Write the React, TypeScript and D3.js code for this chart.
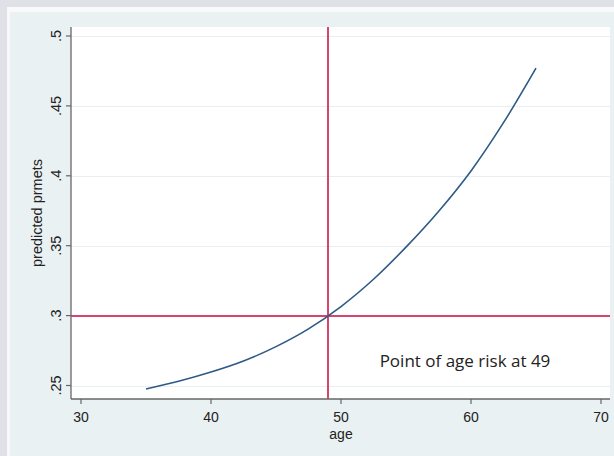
import React, { useEffect, useRef } from 'react';
import * as d3 from 'd3';

// values
const ages = [35, 37.5, 40, 42.5, 45, 47.5, 50, 52.5, 55, 57.5, 60, 62.5, 65];
const predicted = [0.2475, 0.253, 0.2596, 0.2675, 0.2778, 0.2905, 0.3065, 0.326, 0.349, 0.3745, 0.4035, 0.438, 0.477];
const xTicks = [30, 40, 50, 60, 70];
const yTicks = [0.25, 0.3, 0.35, 0.4, 0.45, 0.5];
const yTickLabels = ['.25', '.3', '.35', '.4', '.45', '.5'];
const refAge = 49;
const refRisk = 0.3;
const note = 'Point of age risk at 49';

export default function App() {
  const svgRef = useRef<SVGSVGElement>(null);

  useEffect(() => {
    const width = 614;
    const height = 456;
    const svg = d3.select(svgRef.current);
    svg.selectAll('*').remove();
    svg.attr('width', width).attr('height', height);

    const left = 71, right = 610, top = 27, bottom = 399;
    const font = '"Liberation Sans", Arial, sans-serif';

    // backgrounds
    svg.append('rect').attr('width', width).attr('height', height).attr('fill', '#dfe1e7');
    svg.append('rect').attr('x', 7).attr('y', 7).attr('width', width - 7).attr('height', height - 7).attr('fill', '#f7f9fa');
    svg.append('rect').attr('x', 10).attr('y', 12).attr('width', width - 10).attr('height', height - 12).attr('fill', '#eaf1f3');
    svg.append('rect').attr('x', left).attr('y', top).attr('width', right - left).attr('height', bottom - top).attr('fill', '#ffffff');

    const x = d3.scaleLinear().domain([30, 70]).range([81, 601]);
    const y = d3.scaleLinear().domain([0.25, 0.5]).range([385.5, 36]);

    // gridlines
    svg.append('g').selectAll('line').data(yTicks).join('line')
      .attr('x1', left).attr('x2', right)
      .attr('y1', d => Math.round(y(d)) + 0.5).attr('y2', d => Math.round(y(d)) + 0.5)
      .attr('stroke', '#e8eff2').attr('stroke-width', 1);

    // reference lines
    const rx = Math.round(x(refAge));
    const ry = Math.round(y(refRisk));
    svg.append('line')
      .attr('x1', rx).attr('x2', rx).attr('y1', top).attr('y2', bottom)
      .attr('stroke', '#d6456b').attr('stroke-width', 2);
    svg.append('line')
      .attr('x1', left).attr('x2', right).attr('y1', ry).attr('y2', ry)
      .attr('stroke', '#d6456b').attr('stroke-width', 2);

    // curve
    const line = d3.line<number>()
      .x((_, i) => x(ages[i]))
      .y(d => y(d))
      .curve(d3.curveCatmullRom);
    svg.append('path')
      .datum(predicted)
      .attr('d', line)
      .attr('fill', 'none')
      .attr('stroke', '#2d5a84')
      .attr('stroke-width', 1.6);

    // axes
    svg.append('line').attr('x1', left).attr('x2', left).attr('y1', top).attr('y2', bottom)
      .attr('stroke', '#666').attr('stroke-width', 1.3);
    svg.append('line').attr('x1', left).attr('x2', right).attr('y1', bottom).attr('y2', bottom)
      .attr('stroke', '#666').attr('stroke-width', 1.3);

    const yt = svg.append('g').selectAll('g').data(yTicks).join('g');
    yt.append('line')
      .attr('x1', left - 5).attr('x2', left).attr('y1', d => y(d)).attr('y2', d => y(d))
      .attr('stroke', '#666').attr('stroke-width', 1.2);
    yt.append('text')
      .attr('transform', d => `translate(${left - 10},${y(d)}) rotate(-90)`)
      .attr('text-anchor', 'middle')
      .attr('font-family', font).attr('font-size', 14.5).attr('fill', '#222')
      .text((_, i) => yTickLabels[i]);

    const xt = svg.append('g').selectAll('g').data(xTicks).join('g');
    xt.append('line')
      .attr('x1', d => x(d)).attr('x2', d => x(d)).attr('y1', bottom).attr('y2', bottom + 5)
      .attr('stroke', '#666').attr('stroke-width', 1.2);
    xt.append('text')
      .attr('x', d => x(d)).attr('y', 422)
      .attr('text-anchor', 'middle')
      .attr('font-family', font).attr('font-size', 14).attr('fill', '#222')
      .text(d => d);

    svg.append('text')
      .attr('x', x(50)).attr('y', 439)
      .attr('text-anchor', 'middle')
      .attr('font-family', font).attr('font-size', 14).attr('fill', '#222')
      .text('age');

    svg.append('text')
      .attr('transform', `translate(42,${(top + bottom) / 2}) rotate(-90)`)
      .attr('text-anchor', 'middle')
      .attr('font-family', font).attr('font-size', 14.5).attr('fill', '#222')
      .text('predicted prmets');

    svg.append('text')
      .attr('x', 465).attr('y', 367)
      .attr('text-anchor', 'middle')
      .attr('font-family', '"Open Sans", "Noto Sans", sans-serif').attr('font-size', 17).attr('fill', '#222')
      .text(note);
  }, []);

  return <svg ref={svgRef} style={{ display: 'block', position: 'absolute', left: 0, top: 0 }}></svg>;
}
